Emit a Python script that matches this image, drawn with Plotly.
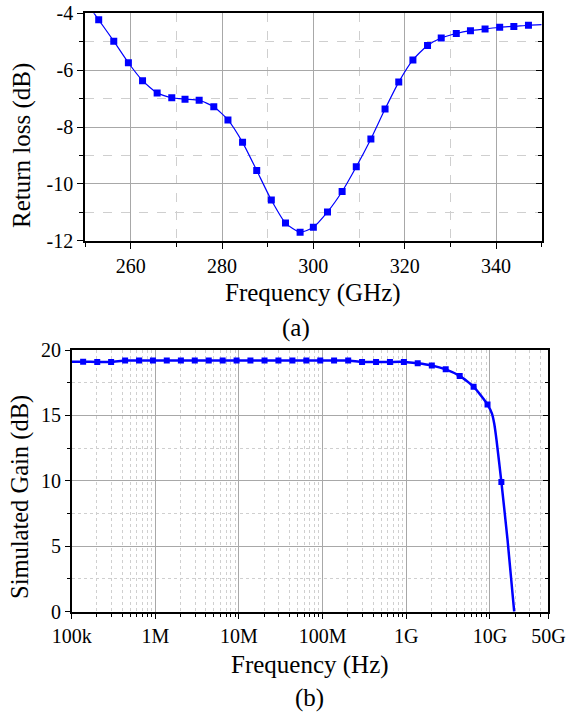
import plotly.graph_objects as go

# ---------------- Data: (a) Return loss ----------------
rl_freq_ghz = [253.0, 256.3, 259.5, 262.6, 265.8, 269.0, 271.9, 275.0, 278.2, 281.3,
               284.5, 287.6, 290.8, 293.9, 297.1, 300.0, 303.1, 306.3, 309.4, 312.6,
               315.7, 318.7, 321.8, 325.0, 328.0, 331.3, 334.4, 337.6, 340.8, 343.9, 347.1]
rl_db = [-4.23, -4.98, -5.74, -6.37, -6.80, -6.97, -7.02, -7.06, -7.29, -7.75,
         -8.54, -9.53, -10.57, -11.38, -11.70, -11.53, -10.99, -10.27, -9.40, -8.42,
         -7.37, -6.42, -5.64, -5.13, -4.87, -4.71, -4.61, -4.55, -4.49, -4.46, -4.42]
# curve ends beyond the first / last marker
rl_line_start = (250.0, -3.55)
rl_line_end = (350.0, -4.40)

rl_xticks = [260, 280, 300, 320, 340]
rl_yticks = [-12, -10, -8, -6, -4]
rl_yticktext = ["-12", "-10", "-8", "-6", "-4"]

# ---------------- Data: (b) Simulated gain ----------------
gain_freq_hz = [1.37e5, 2.02e5, 2.96e5, 4.35e5, 6.38e5, 9.36e5,
                1.37e6, 2.02e6, 2.96e6, 4.35e6, 6.38e6, 9.36e6,
                1.37e7, 2.02e7, 2.96e7, 4.35e7, 6.38e7, 9.36e7,
                1.37e8, 2.02e8, 2.96e8, 4.35e8, 6.38e8, 9.36e8,
                1.37e9, 2.02e9, 2.96e9, 4.35e9, 6.38e9, 9.36e9,
                1.37e10]
gain_db = [19.11, 19.09, 19.09, 19.19, 19.19, 19.19,
           19.19, 19.19, 19.19, 19.19, 19.19, 19.19,
           19.19, 19.19, 19.19, 19.19, 19.19, 19.19,
           19.19, 19.19, 19.09, 19.09, 19.09, 19.09,
           18.99, 18.82, 18.52, 18.02, 17.20, 15.83,
           9.92]
# extra points of the continuous curve
gain_line_freq = [1.0e5] + gain_freq_hz[:-1] + [1.057e10, 1.125e10, 1.2e10] + [gain_freq_hz[-1]] + [1.625e10, 1.95e10]
gain_line_db = [19.11] + gain_db[:-1] + [15.14, 14.38, 13.1] + [gain_db[-1]] + [5.47, 0.0]

gain_xticks = [1e5, 1e6, 1e7, 1e8, 1e9, 1e10, 5e10]
gain_xticktext = ["100k", "1M", "10M", "100M", "1G", "10G", "50G"]
gain_xminor = [m * 10 ** e for e in range(5, 10) for m in range(2, 10)] + [2e10, 3e10, 4e10]

# ---------------- Figure ----------------
W, H = 566, 713
FONT = "Liberation Serif"
BLUE = "#0000FF"

def px_x(p):
    return p / W

def px_y(p):
    return 1 - p / H

fig = go.Figure()

# (a)
fig.add_trace(go.Scatter(
    x=[rl_line_start[0]] + rl_freq_ghz + [rl_line_end[0]],
    y=[rl_line_start[1]] + rl_db + [rl_line_end[1]],
    mode="lines", line=dict(color=BLUE, width=1.2, shape="spline", smoothing=0.6),
    xaxis="x", yaxis="y", showlegend=False, hoverinfo="skip"))
fig.add_trace(go.Scatter(
    x=rl_freq_ghz, y=rl_db, mode="markers",
    marker=dict(symbol="square", size=7, color=BLUE),
    xaxis="x", yaxis="y", showlegend=False))
fig.add_trace(go.Scatter(x=[], y=[], xaxis="x", yaxis="y3", showlegend=False))

# (b)
fig.add_trace(go.Scatter(
    x=gain_line_freq, y=gain_line_db,
    mode="lines", line=dict(color=BLUE, width=2.5, shape="spline", smoothing=0.5),
    xaxis="x2", yaxis="y2", showlegend=False, hoverinfo="skip"))
fig.add_trace(go.Scatter(
    x=gain_freq_hz, y=gain_db, mode="markers",
    marker=dict(symbol="square", size=6, color=BLUE),
    xaxis="x2", yaxis="y2", showlegend=False))
fig.add_trace(go.Scatter(x=[], y=[], xaxis="x2", yaxis="y4", showlegend=False))

tickfont = dict(family=FONT, size=20, color="black")
MAJOR_GRID = "#a8a8a8"
MINOR_GRID = "#cfcfcf"

dom_x1 = [px_x(85), px_x(541.7)]
dom_y1 = [px_y(240.7), px_y(13.3)]
dom_x2 = [px_x(71.7), px_x(548.4)]
dom_y2 = [px_y(611.7), px_y(350)]

common = dict(showline=True, linecolor="black", linewidth=1.6, mirror=True,
              zeroline=False, tickfont=tickfont, ticks="outside", tickcolor="black",
              tickwidth=1.3, showgrid=True, automargin=False)

fig.update_layout(
    width=W, height=H, margin=dict(l=0, r=0, t=0, b=0, autoexpand=False),
    paper_bgcolor="white", plot_bgcolor="white",
    font=dict(family=FONT, color="black"),
    xaxis=dict(domain=dom_x1, anchor="y", range=[250, 350], tickmode="array",
               tickvals=rl_xticks, ticklen=6, gridcolor=MAJOR_GRID, gridwidth=1.2,
               minor=dict(dtick=10, tick0=250, ticks="outside", ticklen=4, tickcolor="black",
                          showgrid=True, gridcolor=MINOR_GRID, griddash="dash", gridwidth=1),
               **common),
    yaxis=dict(domain=dom_y1, anchor="x", range=[-12, -4], tickmode="array",
               tickvals=rl_yticks, ticktext=rl_yticktext, ticklen=6,
               gridcolor=MAJOR_GRID, gridwidth=1.2,
               minor=dict(dtick=1, tick0=-12, ticks="outside", ticklen=4, tickcolor="black",
                          showgrid=True, gridcolor=MINOR_GRID, griddash="dash", gridwidth=1),
               **common),
    yaxis3=dict(overlaying="y", anchor="x", side="right", range=[-12, -4],
                tickmode="array", tickvals=rl_yticks, ticks="inside", ticklen=6,
                tickcolor="black", tickwidth=1.3, showticklabels=False, showgrid=False,
                zeroline=False, showline=False, automargin=False,
                minor=dict(dtick=1, tick0=-12, ticks="inside", ticklen=4, tickcolor="black")),
    xaxis2=dict(domain=dom_x2, anchor="y2", type="log", range=[5, 10.69897],
                tickmode="array", tickvals=gain_xticks, ticktext=gain_xticktext, ticklen=5,
                gridcolor=MAJOR_GRID, gridwidth=1.2,
                minor=dict(tickmode="array", tickvals=gain_xminor, ticks="outside", ticklen=3,
                           tickcolor="black", showgrid=True, gridcolor=MINOR_GRID,
                           griddash="dot", gridwidth=1),
                **common),
    yaxis2=dict(domain=dom_y2, anchor="x2", range=[0, 20], tickmode="array",
                tickvals=[0, 5, 10, 15, 20], ticklen=5, gridcolor=MAJOR_GRID, gridwidth=1.2,
                minor=dict(dtick=2.5, tick0=0, ticks="outside", ticklen=3, tickcolor="black",
                           showgrid=True, gridcolor=MINOR_GRID, griddash="dot", gridwidth=1),
                **common),
    yaxis4=dict(overlaying="y2", anchor="x2", side="right", range=[0, 20],
                tickmode="array", tickvals=[0, 5, 10, 15, 20], ticks="inside", ticklen=5,
                tickcolor="black", tickwidth=1.3, showticklabels=False, showgrid=False,
                zeroline=False, showline=False, automargin=False,
                minor=dict(dtick=2.5, tick0=0, ticks="inside", ticklen=3, tickcolor="black")),
)

def label(text, x, y, size=25, angle=0):
    fig.add_annotation(text=text, x=px_x(x), y=px_y(y), xref="paper", yref="paper",
                       showarrow=False, xanchor="center", yanchor="middle",
                       textangle=angle, font=dict(family=FONT, size=size, color="black"))

label("Frequency (GHz)", 313, 293)
label("(a)", 296, 328)
label("Return loss (dB)", 22, 146, angle=-90)
label("Frequency (Hz)", 310, 665)
label("(b)", 309, 698)
label("Simulated Gain (dB)", 20, 497, size=24.5, angle=-90)

fig.write_html(
    "out.html",
    config={"displayModeBar": False},
    post_script="document.body.style.margin='0';document.body.style.padding='0';"
                "document.body.style.overflow='hidden';",
)
